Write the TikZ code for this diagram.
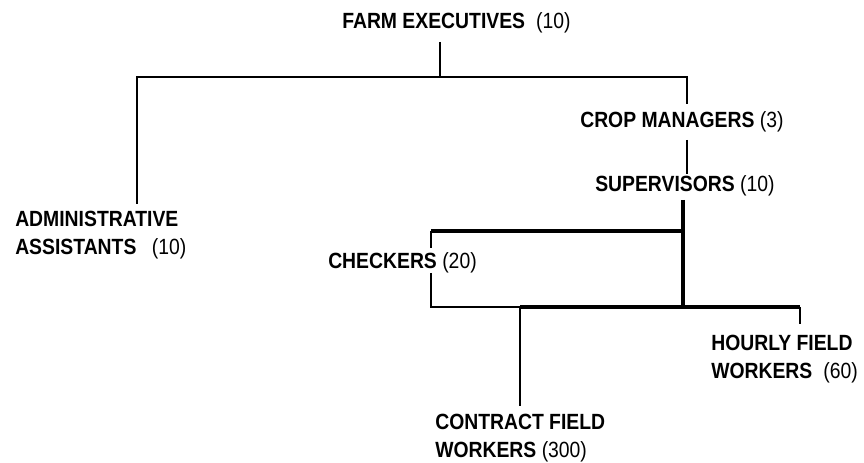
\documentclass[tikz,border=0pt]{standalone}
\usepackage{fontspec}
\setmainfont{Liberation Sans}[FakeStretch=0.88]
\begin{document}
\begin{tikzpicture}[x=0.75pt,y=-0.75pt,
  lbl/.style={anchor=west, inner sep=0pt, align=left,
              font=\fontsize{16.5}{20.5}\selectfont},
  wire/.style={line width=1.6pt, line cap=butt, line join=miter},
  midwire/.style={line width=2.2pt, line join=miter},
  heavy/.style={line width=3pt, line join=miter}]
\useasboundingbox (0,0) rectangle (864,463);

% ---- labels ----
\node[lbl] (farm)     at (342,23)  {\textbf{FARM EXECUTIVES}\hspace{0.5em}(10)};
\node[lbl] (crop)     at (580,122) {\textbf{CROP MANAGERS} (3)};
\node[lbl] (sup)      at (595,186) {\textbf{SUPERVISORS} (10)};
\node[lbl] (admin)    at (15,235)  {\textbf{ADMINISTRATIVE}\\\textbf{ASSISTANTS}\hspace{0.7em}(10)};
\node[lbl] (check)    at (328,263) {\textbf{CHECKERS} (20)};
\node[lbl] (hourly)   at (711,359) {\textbf{HOURLY FIELD}\\\textbf{WORKERS}\hspace{0.5em}(60)};
\node[lbl] (contract) at (435,438) {\textbf{CONTRACT FIELD}\\\textbf{WORKERS} (300)};

% ---- junction points ----
\coordinate (ftop) at (440,42);
\coordinate (fj)   at (440,77);
\coordinate (lj)   at (137,77);
\coordinate (rj)   at (687,77);
\coordinate (aend) at (137,204);
\coordinate (cin)  at (687,104);
\coordinate (cout) at (687,140);
\coordinate (sin)  at (687,174);
\coordinate (sout) at (683,200);
\coordinate (btr)  at (683,231);
\coordinate (bsr)  at (683,307);
\coordinate (btl)  at (431,231);
\coordinate (cku)  at (431,248);
\coordinate (ckd)  at (431,273);
\coordinate (bbl)  at (431,307);
\coordinate (ctj)  at (520,307);
\coordinate (hj)   at (800,307);
\coordinate (hend) at (800,324);
\coordinate (cend) at (520,406);

% ---- connectors ----
\draw[wire] (ftop) -- (fj);
\draw[wire] (aend) -- (lj) -- (rj) -- (cin);
\draw[wire] (cout) -- (sin);
\draw[heavy] (sout) -- (bsr);
\draw[heavy] (btr) -- (btl);
\draw[midwire] (btl) -- (cku);
\draw[midwire] (ckd) -- (bbl) -- (ctj);
\draw[heavy] (ctj) -- (hj);
\draw[wire] (hj) -- (hend);
\draw[midwire] (ctj) -- (cend);
\end{tikzpicture}
\end{document}
